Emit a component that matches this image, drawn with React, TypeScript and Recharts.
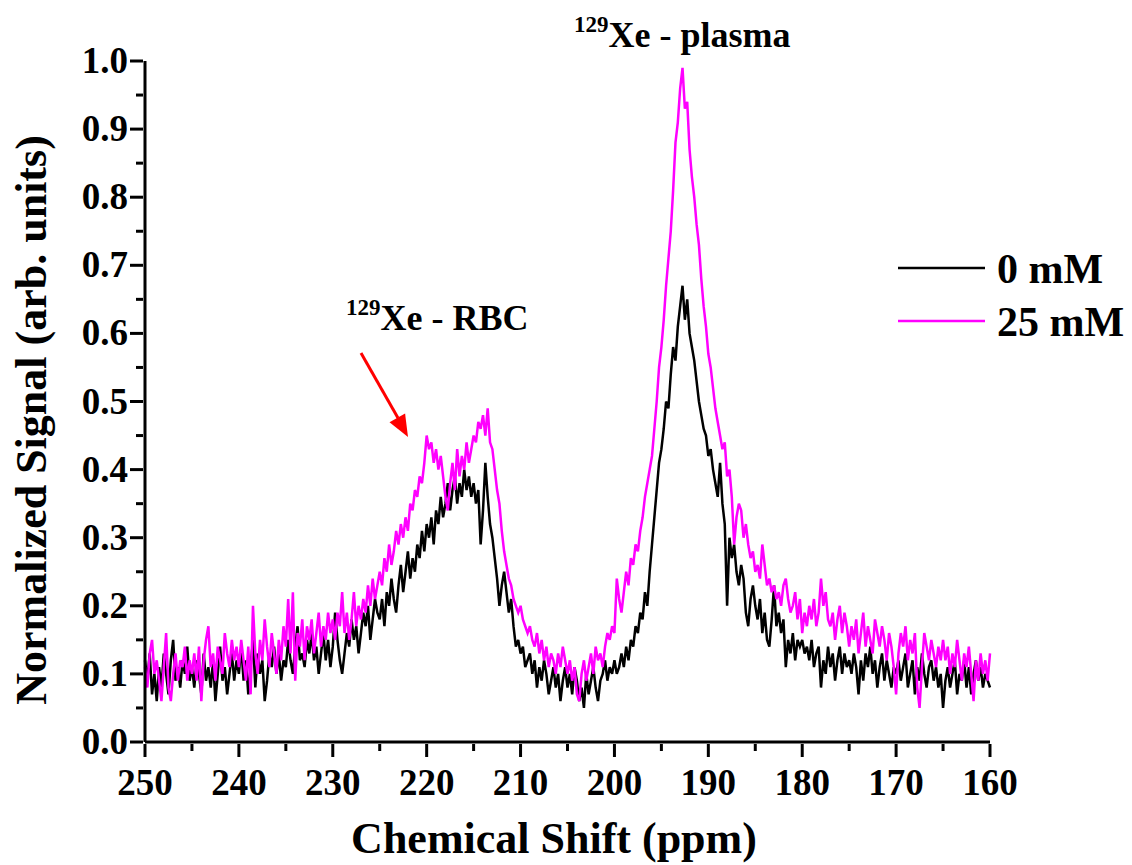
import { LineChart, Line, XAxis, YAxis, Legend } from 'recharts';

// chemical shift grid, 250 -> 160 ppm in 0.25 ppm steps
const shiftPpm = Array.from({ length: 361 }, (_, i) => 250 - i * 0.25);

// normalized 129Xe signal, 0 mM (one row = 5 ppm)
const signal0mM = [
  0.12, 0.09, 0.13, 0.07, 0.10, 0.06, 0.11, 0.08, 0.13, 0.10, 0.07, 0.12, 0.15, 0.09, 0.11, 0.08, 0.12, 0.10, 0.14, 0.09,
  0.11, 0.08, 0.12, 0.10, 0.07, 0.13, 0.09, 0.11, 0.08, 0.12, 0.06, 0.10, 0.14, 0.09, 0.11, 0.07, 0.10, 0.13, 0.09, 0.12,
  0.10, 0.14, 0.09, 0.12, 0.07, 0.11, 0.15, 0.08, 0.13, 0.10, 0.12, 0.06, 0.09, 0.13, 0.11, 0.14, 0.10, 0.13, 0.09, 0.12,
  0.11, 0.15, 0.12, 0.10, 0.14, 0.17, 0.12, 0.13, 0.11, 0.15, 0.13, 0.16, 0.12, 0.14, 0.10, 0.13, 0.16, 0.12, 0.15, 0.11,
  0.14, 0.19, 0.15, 0.12, 0.10, 0.13, 0.16, 0.14, 0.18, 0.15, 0.17, 0.13, 0.16, 0.19, 0.17, 0.20, 0.15, 0.18, 0.21, 0.19,
  0.18, 0.21, 0.17, 0.22, 0.20, 0.24, 0.21, 0.19, 0.23, 0.26, 0.22, 0.25, 0.28, 0.24, 0.27, 0.25, 0.29, 0.27, 0.31, 0.28,
  0.32, 0.30, 0.33, 0.29, 0.34, 0.32, 0.36, 0.33, 0.35, 0.38, 0.34, 0.37, 0.39, 0.35, 0.38, 0.36, 0.40, 0.37, 0.39, 0.36,
  0.38, 0.35, 0.37, 0.29, 0.34, 0.41, 0.36, 0.32, 0.30, 0.27, 0.24, 0.20, 0.23, 0.25, 0.22, 0.19, 0.21, 0.17, 0.14, 0.15,
  0.13, 0.14, 0.11, 0.12, 0.13, 0.10, 0.12, 0.08, 0.11, 0.09, 0.12, 0.10, 0.07, 0.09, 0.11, 0.08, 0.10, 0.06, 0.09, 0.11,
  0.08, 0.10, 0.07, 0.11, 0.09, 0.06, 0.08, 0.05, 0.10, 0.07, 0.09, 0.11, 0.08, 0.06, 0.09, 0.10, 0.12, 0.09, 0.11, 0.10,
  0.12, 0.10, 0.11, 0.13, 0.11, 0.14, 0.12, 0.15, 0.14, 0.17, 0.16, 0.19, 0.18, 0.22, 0.20, 0.25, 0.29, 0.33, 0.37, 0.41,
  0.43, 0.46, 0.50, 0.49, 0.54, 0.58, 0.56, 0.61, 0.64, 0.67, 0.62, 0.65, 0.60, 0.58, 0.56, 0.53, 0.50, 0.48, 0.46, 0.45,
  0.42, 0.43, 0.40, 0.38, 0.36, 0.41, 0.35, 0.32, 0.20, 0.30, 0.27, 0.29, 0.25, 0.23, 0.26, 0.24, 0.19, 0.17, 0.21, 0.23,
  0.20, 0.18, 0.21, 0.16, 0.19, 0.15, 0.14, 0.18, 0.23, 0.17, 0.19, 0.16, 0.18, 0.11, 0.15, 0.13, 0.16, 0.12, 0.15, 0.14,
  0.15, 0.13, 0.14, 0.12, 0.15, 0.11, 0.13, 0.14, 0.08, 0.12, 0.10, 0.14, 0.11, 0.13, 0.09, 0.12, 0.14, 0.10, 0.13, 0.11,
  0.12, 0.10, 0.13, 0.11, 0.07, 0.12, 0.09, 0.13, 0.11, 0.14, 0.10, 0.12, 0.08, 0.11, 0.13, 0.09, 0.12, 0.10, 0.08, 0.11,
  0.10, 0.12, 0.09, 0.11, 0.13, 0.08, 0.10, 0.12, 0.07, 0.11, 0.09, 0.13, 0.10, 0.08, 0.11, 0.12, 0.09, 0.11, 0.08, 0.10,
  0.05, 0.09, 0.11, 0.08, 0.10, 0.12, 0.07, 0.10, 0.09, 0.12, 0.08, 0.11, 0.07, 0.10, 0.12, 0.09, 0.11, 0.08, 0.10, 0.09,
  0.08,
];

// normalized 129Xe signal, 25 mM (one row = 5 ppm)
const signal25mM = [
  0.11, 0.08, 0.13, 0.15, 0.10, 0.12, 0.09, 0.06, 0.11, 0.16, 0.08, 0.06, 0.10, 0.13, 0.09, 0.12, 0.11, 0.14, 0.09, 0.12,
  0.10, 0.13, 0.09, 0.14, 0.06, 0.12, 0.15, 0.17, 0.11, 0.13, 0.09, 0.14, 0.12, 0.10, 0.16, 0.13, 0.11, 0.15, 0.12, 0.14,
  0.11, 0.15, 0.12, 0.09, 0.14, 0.07, 0.20, 0.13, 0.10, 0.15, 0.12, 0.18, 0.14, 0.11, 0.16, 0.13, 0.10, 0.15, 0.12, 0.17,
  0.14, 0.21, 0.13, 0.22, 0.09, 0.16, 0.14, 0.18, 0.12, 0.17, 0.15, 0.18, 0.13, 0.16, 0.19, 0.14, 0.17, 0.15, 0.19, 0.16,
  0.18, 0.15, 0.19, 0.17, 0.22, 0.16, 0.19, 0.15, 0.18, 0.22, 0.17, 0.20, 0.18, 0.21, 0.19, 0.23, 0.20, 0.24, 0.21, 0.23,
  0.25, 0.23, 0.27, 0.25, 0.29, 0.26, 0.28, 0.31, 0.29, 0.32, 0.30, 0.33, 0.31, 0.35, 0.34, 0.37, 0.36, 0.39, 0.38, 0.41,
  0.45, 0.43, 0.44, 0.41, 0.43, 0.40, 0.42, 0.39, 0.36, 0.34, 0.38, 0.41, 0.37, 0.43, 0.39, 0.42, 0.40, 0.44, 0.41, 0.43,
  0.45, 0.44, 0.47, 0.46, 0.48, 0.45, 0.49, 0.44, 0.43, 0.40, 0.37, 0.35, 0.31, 0.28, 0.26, 0.24, 0.23, 0.21, 0.20, 0.19,
  0.20, 0.18, 0.17, 0.16, 0.17, 0.15, 0.14, 0.16, 0.13, 0.15, 0.12, 0.14, 0.11, 0.13, 0.12, 0.10, 0.13, 0.11, 0.14, 0.12,
  0.10, 0.12, 0.09, 0.11, 0.07, 0.06, 0.10, 0.12, 0.09, 0.11, 0.13, 0.10, 0.14, 0.12, 0.13, 0.11, 0.14, 0.16, 0.15, 0.17,
  0.16, 0.24, 0.21, 0.19, 0.22, 0.25, 0.23, 0.27, 0.26, 0.29, 0.28, 0.31, 0.33, 0.36, 0.38, 0.40, 0.42, 0.46, 0.50, 0.55,
  0.58, 0.62, 0.67, 0.71, 0.75, 0.81, 0.88, 0.91, 0.96, 0.99, 0.93, 0.94, 0.87, 0.83, 0.80, 0.76, 0.73, 0.68, 0.64, 0.61,
  0.57, 0.55, 0.52, 0.49, 0.47, 0.45, 0.43, 0.44, 0.39, 0.40, 0.36, 0.29, 0.33, 0.35, 0.34, 0.30, 0.32, 0.29, 0.27, 0.28,
  0.25, 0.26, 0.24, 0.29, 0.26, 0.23, 0.24, 0.22, 0.23, 0.21, 0.22, 0.20, 0.23, 0.24, 0.21, 0.19, 0.20, 0.22, 0.18, 0.21,
  0.16, 0.19, 0.17, 0.20, 0.18, 0.21, 0.17, 0.19, 0.24, 0.20, 0.22, 0.18, 0.17, 0.19, 0.15, 0.18, 0.20, 0.16, 0.19, 0.17,
  0.14, 0.17, 0.15, 0.18, 0.13, 0.16, 0.19, 0.14, 0.17, 0.15, 0.13, 0.18, 0.16, 0.14, 0.17, 0.15, 0.12, 0.16, 0.14, 0.11,
  0.07, 0.13, 0.16, 0.14, 0.17, 0.12, 0.15, 0.13, 0.16, 0.08, 0.05, 0.11, 0.16, 0.14, 0.12, 0.15, 0.13, 0.11, 0.14, 0.12,
  0.15, 0.12, 0.14, 0.10, 0.13, 0.11, 0.15, 0.12, 0.09, 0.13, 0.11, 0.14, 0.10, 0.06, 0.12, 0.09, 0.13, 0.10, 0.12, 0.09,
  0.13,
];

const xTicks = [160, 165, 170, 175, 180, 185, 190, 195, 200, 205, 210, 215, 220, 225, 230, 235, 240, 245, 250];
const yTicks = [0, 0.05, 0.1, 0.15, 0.2, 0.25, 0.3, 0.35, 0.4, 0.45, 0.5, 0.55, 0.6, 0.65, 0.7, 0.75, 0.8, 0.85, 0.9, 0.95, 1.0];

const seriesNames = ['0 mM', '25 mM'];
const seriesColors = ['#000000', '#ff00ff'];

const data = shiftPpm.map((ppm, i) => ({
  ppm,
  s0: signal0mM[i],
  s25: signal25mM[i],
}));

const FONT = '"Liberation Serif", "Times New Roman", serif';

const XTick = ({ x, y, payload }: any) => {
  const major = payload.value % 10 === 0;
  return (
    <g>
      <line x1={x} x2={x} y1={y} y2={y + (major ? 13 : 7)} stroke="#000" strokeWidth={3} />
      {major && (
        <text x={x} y={y + 51} textAnchor="middle" fontFamily={FONT} fontWeight="bold" fontSize={37} fill="#000">
          {payload.value}
        </text>
      )}
    </g>
  );
};

const YTick = ({ x, y, payload }: any) => {
  const major = Math.round(payload.value * 100) % 10 === 0;
  return (
    <g>
      <line x1={x} x2={x - (major ? 13 : 7)} y1={y} y2={y} stroke="#000" strokeWidth={3} />
      {major && (
        <text x={x - 15} y={y + 12} textAnchor="end" fontFamily={FONT} fontWeight="bold" fontSize={37} fill="#000">
          {payload.value.toFixed(1)}
        </text>
      )}
    </g>
  );
};

const LegendBox = () => (
  <svg width={260} height={110} style={{ overflow: 'visible' }}>
    {seriesNames.map((name, i) => (
      <g key={name}>
        <line x1={10} x2={97} y1={30 + i * 53} y2={30 + i * 53} stroke={seriesColors[i]} strokeWidth={2.5} />
        <text x={109} y={45 + i * 53} fontFamily={FONT} fontWeight="bold" fontSize={42} fill="#000">
          {name}
        </text>
      </g>
    ))}
  </svg>
);

export default function App() {
  return (
    <LineChart
      width={1124}
      height={857}
      data={data}
      margin={{ top: 53, right: 142, bottom: 0, left: 0 }}
      style={{ background: '#fff' }}
    >
      <XAxis
        dataKey="ppm"
        type="number"
        domain={[160, 250]}
        reversed
        ticks={xTicks}
        interval={0}
        tickSize={0}
        tickLine={false}
        tick={<XTick />}
        axisLine={{ stroke: '#000', strokeWidth: 3 }}
        height={123}
      />
      <YAxis
        type="number"
        domain={[0, 1]}
        ticks={yTicks}
        interval={0}
        tickSize={0}
        tickLine={false}
        tick={<YTick />}
        axisLine={{ stroke: '#000', strokeWidth: 3 }}
        width={137}
      />
      <Legend
        content={<LegendBox />}
        wrapperStyle={{ position: 'absolute', left: 880, top: 230, width: 260, height: 0, overflow: 'visible' }}
      />
      <Line type="linear" dataKey="s0" name={seriesNames[0]} stroke={seriesColors[0]} strokeWidth={2.5} dot={false} isAnimationActive={false} />
      <Line type="linear" dataKey="s25" name={seriesNames[1]} stroke={seriesColors[1]} strokeWidth={2.5} dot={false} isAnimationActive={false} />

      {/* axis titles */}
      <text
        x={38}
        y={412}
        transform="rotate(-90 38 412)"
        textAnchor="middle"
        fontFamily={FONT}
        fontWeight="bold"
        fontSize={44}
        fill="#000"
      >
        Normalized Signal (arb. units)
      </text>
      <text x={546} y={845} textAnchor="middle" fontFamily={FONT} fontWeight="bold" fontSize={44} fill="#000">
        Chemical Shift (ppm)
      </text>

      {/* peak annotations */}
      <text x={566} y={39} fontFamily={FONT} fontWeight="bold" fill="#000">
        <tspan fontSize={23} dy={-15}>129</tspan>
        <tspan fontSize={36} dy={15}>Xe - plasma</tspan>
      </text>
      <text x={338} y={322} fontFamily={FONT} fontWeight="bold" fill="#000">
        <tspan fontSize={23} dy={-15}>129</tspan>
        <tspan fontSize={36} dy={15}>Xe - RBC</tspan>
      </text>
      <line x1={353} y1={345} x2={390} y2={410} stroke="#ff0000" strokeWidth={3} />
      <polygon points="400,429 381.5,414.2 397.1,405.4" fill="#ff0000" />
    </LineChart>
  );
}
